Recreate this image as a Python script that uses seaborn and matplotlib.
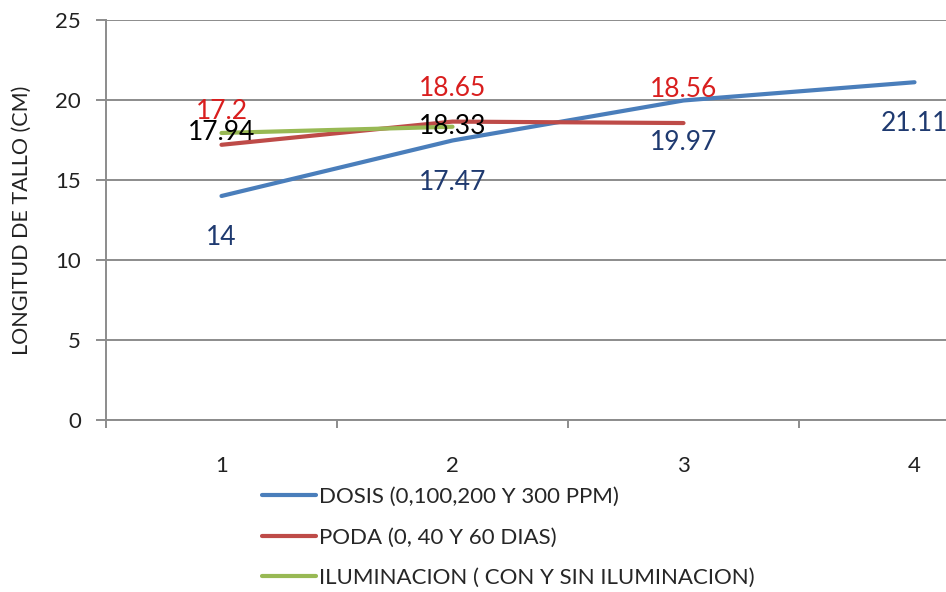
import matplotlib
matplotlib.use("Agg")
import matplotlib.pyplot as plt
import seaborn as sns
import pandas as pd
from matplotlib.ticker import FixedLocator

categories = [1, 2, 3, 4]
dosis = [14, 17.47, 19.97, 21.11]
poda = [17.2, 18.65, 18.56]
iluminacion = [17.94, 18.33]
series_names = ["DOSIS (0,100,200 Y 300 PPM)", "PODA (0, 40 Y 60 DIAS)",
                "ILUMINACION ( CON Y SIN ILUMINACION)"]
line_colors = ["#4A7EBB", "#BE4B48", "#98B954"]
label_colors = ["#1F3A70", "#D91E1E", "#000000"]
yticks = [0, 5, 10, 15, 20, 25]

sns.set_theme(style="white")
plt.rcParams["font.family"] = ["Lato", "DejaVu Sans"]

rows = []
for name, vals in zip(series_names, [dosis, poda, iluminacion]):
    for c, v in zip(categories, vals):
        rows.append({"cat": c, "val": v, "serie": name})
df = pd.DataFrame(rows)

fig = plt.figure(figsize=(9.46, 5.92), dpi=100)
ax = fig.add_axes([106 / 946, 1 - 420 / 592, 924 / 946, 400 / 592])

sns.lineplot(data=df, x="cat", y="val", hue="serie", hue_order=series_names,
             palette=line_colors, linewidth=3.0, ax=ax, legend=True)

ax.set_xlim(0.5, 4.5)
ax.set_ylim(0, 25)
ax.set_yticks(yticks)
ax.set_yticklabels([str(t) for t in yticks], fontsize=16, color="#222222")
ax.grid(axis="y", color="#8C8C8C", linewidth=1.4)
ax.set_axisbelow(True)

# category axis: tick marks between categories, labels at centers
ax.xaxis.set_major_locator(FixedLocator([0.5, 1.5, 2.5, 3.5, 4.5]))
ax.set_xticklabels([])
ax.xaxis.set_minor_locator(FixedLocator(categories))
ax.set_xticklabels([str(c) for c in categories], minor=True, fontsize=16, color="#222222")
ax.tick_params(axis="x", which="major", length=6, width=1.4, color="#8C8C8C", direction="out", bottom=True)
ax.tick_params(axis="x", which="minor", length=0, pad=26)
ax.tick_params(axis="y", length=7, width=1.4, color="#8C8C8C", direction="out", left=True, pad=11)

for side in ["top", "right"]:
    ax.spines[side].set_visible(False)
for side in ["left", "bottom"]:
    ax.spines[side].set_color("#8C8C8C")
    ax.spines[side].set_linewidth(1.4)

ax.set_xlabel("")
ax.set_ylabel("LONGITUD DE TALLO (CM)", fontsize=15.5, color="#222222")
ax.yaxis.set_label_coords(-0.080, 0.5)

# data labels
offsets = [-30, 24, 0]
for name, vals, col, off in zip(series_names, [dosis, poda, iluminacion], label_colors, offsets):
    for c, v in zip(categories, vals):
        ax.annotate(f"{v:g}", (c, v), xytext=(0, off), textcoords="offset points",
                    ha="center", va="center", fontsize=19, color=col)

handles, labels = ax.get_legend_handles_labels()
ax.legend(handles, labels, loc="upper left", bbox_to_anchor=(262 / 946, 1 - 487 / 592),
          bbox_transform=fig.transFigure, frameon=False, fontsize=16,
          handlelength=2.45, handletextpad=0.12, labelspacing=0.92, borderaxespad=0,
          borderpad=0)

fig.savefig("out.png", dpi=100)
